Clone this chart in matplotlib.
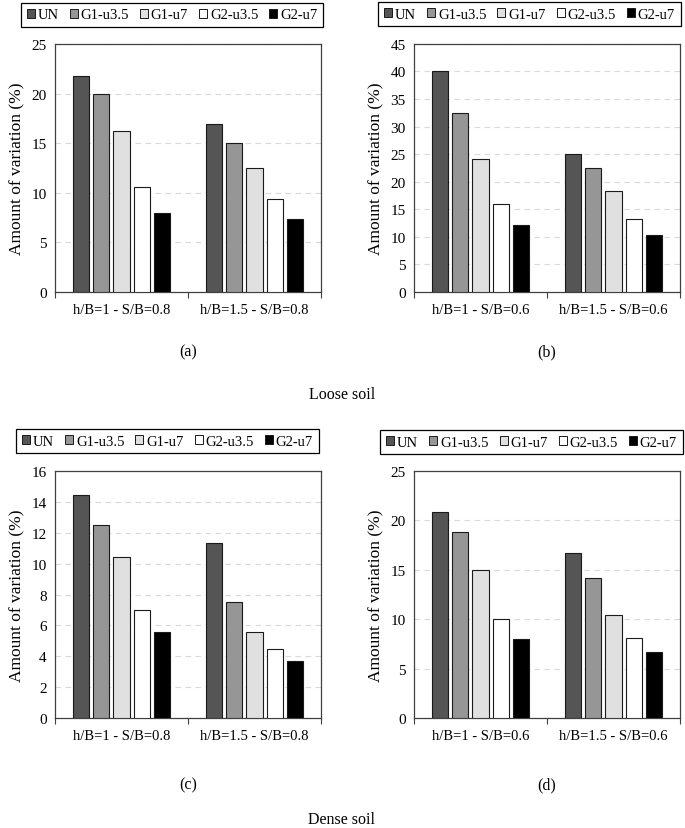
import numpy as np
import matplotlib.pyplot as plt
from matplotlib.patches import Patch

plt.rcParams['font.family'] = ['Liberation Serif', 'DejaVu Serif']

# Series and colours
series = ['UN', 'G1-u3.5', 'G1-u7', 'G2-u3.5', 'G2-u7']
colors = ['#555555', '#969696', '#e0e0e0', '#ffffff', '#000000']

# Categories per panel
cats_08 = ['h/B=1 - S/B=0.8', 'h/B=1.5 - S/B=0.8']
cats_06 = ['h/B=1 - S/B=0.6', 'h/B=1.5 - S/B=0.6']

# Values (series x category)
vals_a = [[21.8, 16.9], [20.0, 15.0], [16.2, 12.5], [10.6, 9.4], [8.0, 7.4]]
vals_b = [[40.0, 25.0], [32.5, 22.5], [24.1, 18.3], [15.9, 13.3], [12.2, 10.4]]
vals_c = [[14.4, 11.3], [12.5, 7.5], [10.4, 5.6], [7.0, 4.5], [5.6, 3.7]]
vals_d = [[20.8, 16.7], [18.8, 14.2], [15.0, 10.4], [10.0, 8.1], [8.0, 6.7]]

panels = [
    # values, categories, ymax, ystep, axes rect, legend center, letter pos
    (vals_a, cats_08, 25, 5, [0.0803, 0.6466, 0.3883, 0.2992], (0.251, 0.9807), '(a)', (0.2745, 0.575)),
    (vals_b, cats_06, 45, 5, [0.6044, 0.6466, 0.3883, 0.2992], (0.773, 0.9819), '(b)', (0.7985, 0.575)),
    (vals_c, cats_08, 16, 2, [0.0803, 0.1323, 0.3883, 0.2987], (0.2445, 0.4668), '(c)', (0.2745, 0.053)),
    (vals_d, cats_06, 25, 5, [0.6044, 0.1323, 0.3883, 0.2987], (0.776, 0.4656), '(d)', (0.7985, 0.053)),
]

fig = plt.figure(figsize=(6.85, 8.29), dpi=100)

bar_w = 0.122
step = 0.1525
x = np.arange(2)

for vals, cats, ymax, ystep, rect, leg_c, letter, letter_pos in panels:
    ax = fig.add_axes(rect)
    for i, (name, col) in enumerate(zip(series, colors)):
        ax.bar(x + (i - 2) * step, vals[i], width=bar_w, color=col,
               edgecolor='#1a1a1a', linewidth=0.8, zorder=3, label=name)
    ax.set_xlim(-0.5, 1.5)
    ax.set_ylim(0, ymax)
    ax.set_yticks(np.arange(0, ymax + 0.1, ystep))
    ax.yaxis.grid(True, linestyle=(0, (5, 4)), color='#d9d9d9', linewidth=0.8, zorder=0)
    ax.set_xticks(x)
    ax.set_xticklabels(cats, fontsize=10.5)
    ax.set_xticks([-0.5, 0.5, 1.5], minor=True)
    ax.tick_params(axis='x', which='major', length=0, pad=8)
    ax.tick_params(axis='x', which='minor', length=4, width=0.8, color='#404040')
    ax.tick_params(axis='y', length=0, labelsize=11, pad=6)
    for sp in ax.spines.values():
        sp.set_color('#404040')
        sp.set_linewidth(0.9)
    ax.set_ylabel('Amount of variation (%)', fontsize=12.5, labelpad=4)

    handles = [Patch(facecolor=c, edgecolor='#1a1a1a', linewidth=0.7) for c in colors]
    leg = fig.legend(handles, series, loc='center', bbox_to_anchor=leg_c,
                     bbox_transform=fig.transFigure, ncol=5, fontsize=10.5,
                     handlelength=0.55, handleheight=0.55, handletextpad=0.2,
                     columnspacing=0.75, borderpad=0.4, borderaxespad=0,
                     fancybox=False, framealpha=1)
    leg.get_frame().set_edgecolor('#000000')
    leg.get_frame().set_linewidth(0.9)

    fig.text(letter_pos[0], letter_pos[1], letter, ha='center', va='center', fontsize=11.5)

fig.text(0.499, 0.5235, 'Loose soil', ha='center', va='center', fontsize=11.5)
fig.text(0.499, 0.011, 'Dense soil', ha='center', va='center', fontsize=11.5)

fig.savefig('out.png', dpi=100)
